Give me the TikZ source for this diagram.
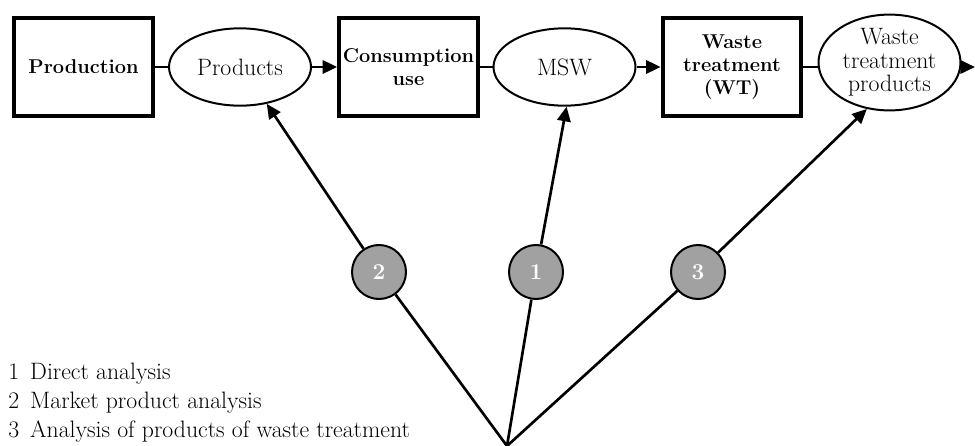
\documentclass[tikz,border=0pt]{standalone}
\usetikzlibrary{arrows.meta,shapes.geometric}
\newcommand\flowfont{\fontsize{17.8}{17.6}\selectfont}
\newcommand\stagefont{\fontsize{15}{17}\selectfont\bfseries}
\tikzset{
  stagebox/.style={draw, line width=3pt, minimum width=104pt, minimum height=73pt,
    inner sep=0pt, align=center, font=\stagefont},
  flowoval/.style={draw, ellipse, line width=1.5pt, minimum width=106.5pt,
    minimum height=58pt, inner sep=0pt, align=center, font=\flowfont},
  methodcirc/.style={draw, circle, line width=1.5pt, fill=black!37, minimum size=40.5pt,
    inner sep=0pt, text=white, font=\fontsize{17}{17}\selectfont\bfseries},
  flow/.style={line width=2pt},
  flowarrow/.style={line width=2pt, -{Triangle[length=11pt,width=10pt]}},
  legend/.style={anchor=base west, inner sep=0pt, font=\flowfont}
}
\begin{document}
\begin{tikzpicture}[x=0.75pt, y=-0.75pt]
        \useasboundingbox (0,0) rectangle (975,446);

        % material flow chain
        \node [stagebox] (prod) at (83.5, 67) {Production};
        \node [flowoval] (products) at (240, 67) {Products};
        \node [stagebox] (cons) at (408.5, 67) {Consumption\\use};
        \node [flowoval] (msw) at (564.5, 67) {MSW};
        \node [stagebox] (wt) at (732, 67) {Waste\\treatment\\(WT)};
        \node [flowoval, minimum height=70pt] (wtp) at (889.5, 62.5) {Waste\\treatment\\products};
        \coordinate (exit) at (975, 67);

        \draw [flow] (prod) -- (products);
        \draw [flowarrow] (products) -- (cons);
        \draw [flow] (cons) -- (msw);
        \draw [flowarrow] (msw) -- (wt);
        \draw [flow] (wt.east) -- (wt.east -| wtp.west);
        \draw [flowarrow] (exit -| wtp.east) -- (exit);

        % methods of analysis
        \coordinate (apex) at (507, 446);
        \node [methodcirc] (m2) at (379, 272) {2};
        \node [methodcirc] (m1) at (536, 272) {1};
        \node [methodcirc] (m3) at (698, 272) {3};

        \draw [flow] (apex) -- (m2);
        \draw [flow] (apex) -- (m1);
        \draw [flow] (apex) -- (m3);
        \draw [flowarrow] (m2) -- (products.-54);
        \draw [flowarrow] (m1) -- (msw.-87);
        \draw [flowarrow] (m3) -- (wtp.-116);

        % legend
        \node [legend] (leg1) at (8, 379) {\makebox[16.5pt][l]{1}Direct analysis};
        \node [legend] (leg2) at (8, 408) {\makebox[16.5pt][l]{2}Market product analysis};
        \node [legend] (leg3) at (8, 437) {\makebox[16.5pt][l]{3}Analysis of products of waste treatment};
      \end{tikzpicture}
\end{document}
